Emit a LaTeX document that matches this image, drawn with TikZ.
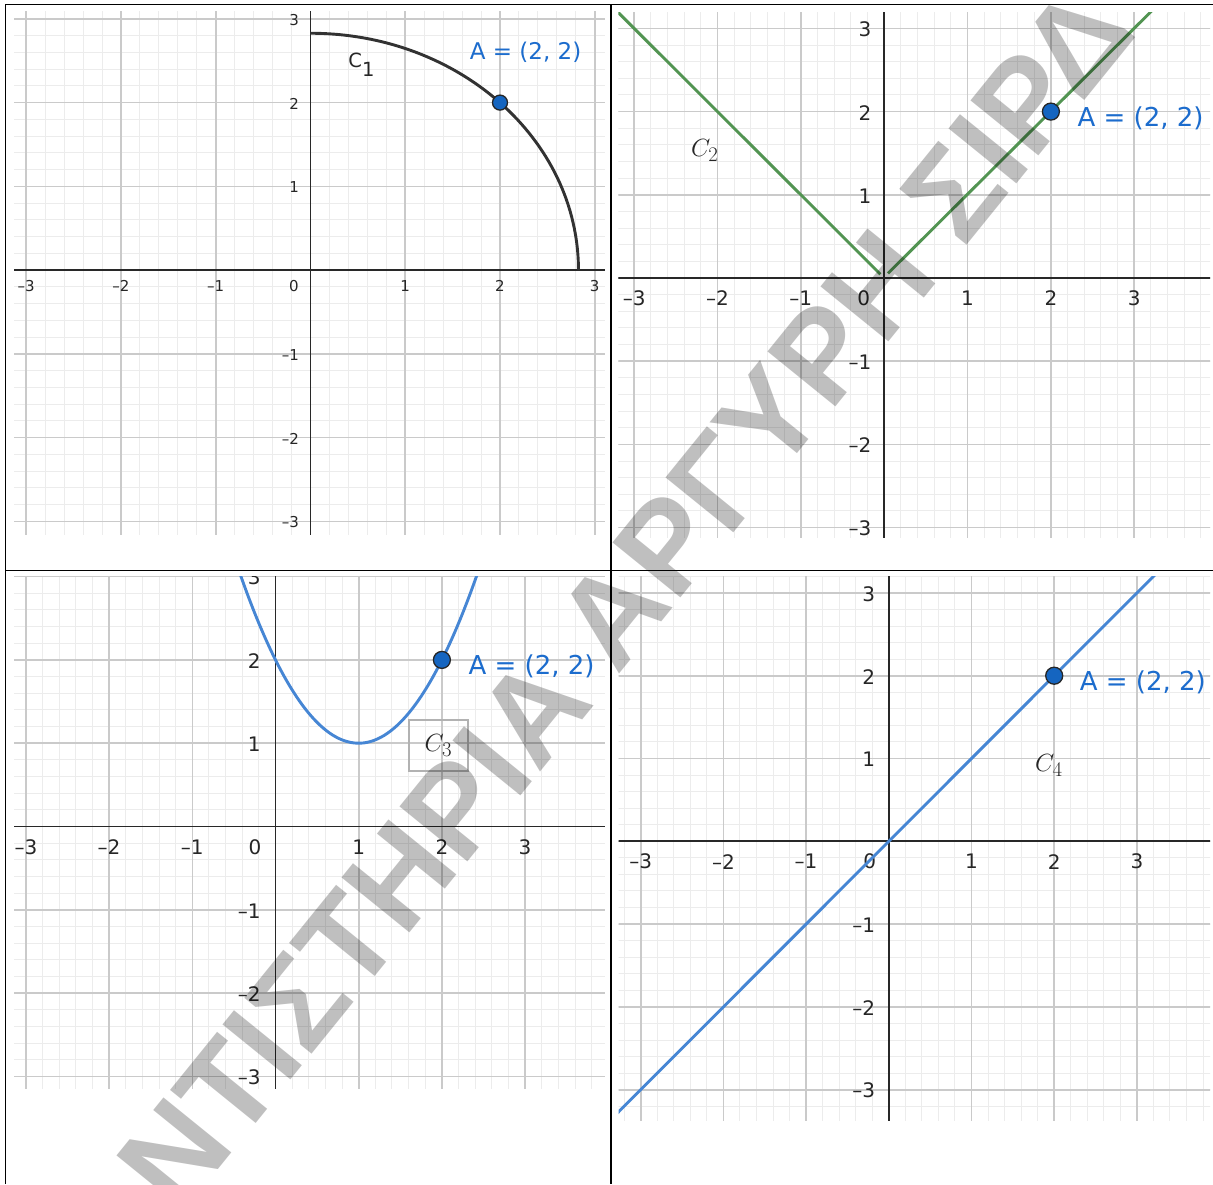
\documentclass[tikz,border=0pt]{standalone}
\usepackage[no-math]{fontspec}
\setmainfont{DejaVu Sans}
\newfontfamily\wmfont{Liberation Sans}
\definecolor{gminor}{RGB}{236,236,236}
\definecolor{gmajor}{RGB}{202,202,202}
\definecolor{axcol}{RGB}{40,40,40}
\definecolor{ptblue}{RGB}{21,101,192}
\definecolor{labblue}{RGB}{28,108,205}
\definecolor{curveblue}{RGB}{70,134,212}
\definecolor{curvegreen}{RGB}{82,148,82}
\definecolor{curvedark}{RGB}{50,50,50}
\tikzset{
  minorgrid/.style={draw=gminor, line width=1pt},
  majorgrid/.style={draw=gmajor, line width=1.6pt},
  axisline/.style={draw=axcol, line width=1.7pt},
  ticksmall/.style={inner sep=0pt, text=black!85, font=\fontsize{15}{15}\selectfont},
  ticklarge/.style={inner sep=0pt, text=black!85, font=\fontsize{20}{20}\selectfont},
  ptA/.style={circle, fill=ptblue, draw=black!85, line width=1.3pt, inner sep=0pt, minimum size=17pt},
  alab/.style={inner sep=0pt, anchor=base west, text=labblue, font=\fontsize{26}{26}\selectfont},
  clab/.style={inner sep=0pt, anchor=base west, text=black!85, font=\fontsize{31}{31}\selectfont},
  curve/.style={line width=2.9pt},
  tbl/.style={draw=black, line width=1.3pt},
  wm/.style={inner sep=0pt, text=black, text opacity=0.25, rotate=51, font=\wmfont\bfseries\fontsize{127}{127}\selectfont},
}
\begin{document}
\begin{tikzpicture}[x=1pt,y=-1pt]
\fill[white] (0,0) rectangle (1213,1184);
\useasboundingbox (0,0) rectangle (1213,1184);

% ---------- Panel 1 ----------
\begin{scope}[shift={(310.5,270.1)}, x=94.75pt, y=83.75pt]
  \clip (-3.129,-3.151) rectangle (3.108,3.082);
  \foreach \i in {-20,...,20} {
    \draw[minorgrid] (\i/5,-4) -- (\i/5,4);
    \draw[minorgrid] (-4,\i/5) -- (4,\i/5);
  }
  \foreach \i in {-4,...,4} {
    \draw[majorgrid] (\i,-4) -- (\i,4);
    \draw[majorgrid] (-4,\i) -- (4,\i);
  }
  \draw[axisline] (-4,0) -- (4,0);
  \draw[axisline] (0,-4) -- (0,4);
  \foreach \i/\t [count=\k] in {-3/–3,-2/–2,-1/–1,1/1,2/2,3/3} {
    \node[ticksmall] (p1x\k) at (\i,-0.19) {\t};
    \node[ticksmall, anchor=east] (p1y\k) at (-0.12,\i) [yshift=-1pt] {\t};
  }
  \node[ticksmall] (p1o) at (-0.176,-0.19) {0};
  \draw[curve, curvedark] (0,2.828) arc[start angle=90, end angle=0, radius=2.828];
  \node[ptA, minimum size=15pt] (A1) at (2,2) {};
  \node[alab, font=\fontsize{23}{23}\selectfont, xshift=-30.4pt, yshift=43.6pt] (LA1) at (A1.center) {A = (2, 2)};
  \node[inner sep=0pt, anchor=base west, text=black!85, font=\fontsize{19.5}{19.5}\selectfont] (C1) at (0.398,2.423) {C\raisebox{-9pt}{1}};
\end{scope}

% ---------- Panel 2 ----------
\begin{scope}[shift={(884.2,278)}, x=83.35pt, y=83.2pt]
  \clip (-3.188,-3.113) rectangle (3.909,3.189);
  \foreach \i in {-20,...,20} {
    \draw[minorgrid] (\i/5,-4) -- (\i/5,4);
    \draw[minorgrid] (-4,\i/5) -- (4,\i/5);
  }
  \foreach \i in {-4,...,4} {
    \draw[majorgrid] (\i,-4) -- (\i,4);
    \draw[majorgrid] (-4,\i) -- (4,\i);
  }
  \draw[axisline] (-4,0) -- (4,0);
  \draw[axisline] (0,-4) -- (0,4);
  \foreach \i/\t [count=\k] in {-3/–3,-2/–2,-1/–1,1/1,2/2,3/3} {
    \node[ticklarge] (p2x\k) at (\i,-0.24) {\t};
    \node[ticklarge, anchor=east] (p2y\k) at (-0.152,\i) [yshift=-1pt] {\t};
  }
  \node[ticklarge] (p2o) at (-0.245,-0.24) {0};
  \draw[curve, curvegreen] (-3.6,3.6) -- (-0.045,0.045);
  \draw[curve, curvegreen] (0.045,0.055) -- (3.6,3.6);
  \node[ptA] (A2) at (2,2) {};
  \node[alab, xshift=26.5pt, yshift=-14.5pt] (LA2) at (A2.center) {A = (2, 2)};
  \node[clab] (C2) at (-2.320,1.463) {$C_2$};
\end{scope}

% ---------- Panel 3 ----------
\begin{scope}[shift={(275.5,826.5)}, x=83.2pt, y=83.3pt]
  \clip (-3.143,-3.151) rectangle (3.960,3.007);
  \foreach \i in {-20,...,20} {
    \draw[minorgrid] (\i/5,-4) -- (\i/5,4);
    \draw[minorgrid] (-4,\i/5) -- (4,\i/5);
  }
  \foreach \i in {-4,...,4} {
    \draw[majorgrid] (\i,-4) -- (\i,4);
    \draw[majorgrid] (-4,\i) -- (4,\i);
  }
  \draw[axisline] (-4,0) -- (4,0);
  \draw[axisline] (0,-4) -- (0,4);
  \foreach \i/\t [count=\k] in {-3/–3,-2/–2,-1/–1,1/1,2/2,3/3} {
    \node[ticklarge] (p3x\k) at (\i,-0.244) {\t};
    \node[ticklarge, anchor=east] (p3y\k) at (-0.178,\i) [yshift=-1pt] {\t};
  }
  \node[ticklarge] (p3o) at (-0.248,-0.244) {0};
  \draw[curve, curveblue] plot[domain=-0.6:2.6, samples=80, smooth] (\x,{(\x-1)*(\x-1)+1});
  \node[ptA] (A3) at (2,2) {};
  \node[alab, xshift=26.5pt, yshift=-14.5pt] (LA3) at (A3.center) {A = (2, 2)};
  \node[draw=black!30, line width=2pt, inner sep=0pt, minimum width=59pt, minimum height=51pt, text=black!85, font=\fontsize{31}{31}\selectfont] (C3) at (1.957,0.972) {$C_3$};
\end{scope}

% ---------- Panel 4 ----------
\begin{scope}[shift={(888.8,841.3)}, x=82.7pt, y=82.8pt]
  \clip (-3.268,-3.366) rectangle (3.884,3.204);
  \foreach \i in {-20,...,20} {
    \draw[minorgrid] (\i/5,-4) -- (\i/5,4);
    \draw[minorgrid] (-4,\i/5) -- (4,\i/5);
  }
  \foreach \i in {-4,...,4} {
    \draw[majorgrid] (\i,-4) -- (\i,4);
    \draw[majorgrid] (-4,\i) -- (4,\i);
  }
  \draw[axisline] (-4,0) -- (4,0);
  \draw[axisline] (0,-4) -- (0,4);
  \foreach \i/\t [count=\k] in {-3/–3,-2/–2,-1/–1,1/1,2/2,3/3} {
    \node[ticklarge] (p4x\k) at (\i,-0.246) {\t};
    \node[ticklarge, anchor=east] (p4y\k) at (-0.162,\i) [yshift=-1pt] {\t};
  }
  \node[ticklarge] (p4o) at (-0.232,-0.246) {0};
  \draw[curve, curveblue] (-3.6,-3.6) -- (3.6,3.6);
  \node[ptA] (A4) at (2,2) {};
  \node[alab, xshift=25.5pt, yshift=-14.5pt] (LA4) at (A4.center) {A = (2, 2)};
  \node[clab] (C4) at (1.768,0.842) {$C_4$};
\end{scope}

% ---------- Table lines ----------
\draw[tbl] (5.8,1184) -- (5.8,4.5) -- (1213,4.5);
\draw[tbl] (611,4.5) -- (611,1184);
\draw[tbl] (5.8,570.8) -- (1213,570.8);

% ---------- Watermark ----------
\begin{scope}
  \clip (0,0) rectangle (1213,1184);
  \node[wm] (wmark) at (625,598) {ΝΤΙΣΤΗΡΙΑ ΑΡΓΥΡΗ ΣΙΡΔ};
\end{scope}
\end{tikzpicture}
\end{document}
